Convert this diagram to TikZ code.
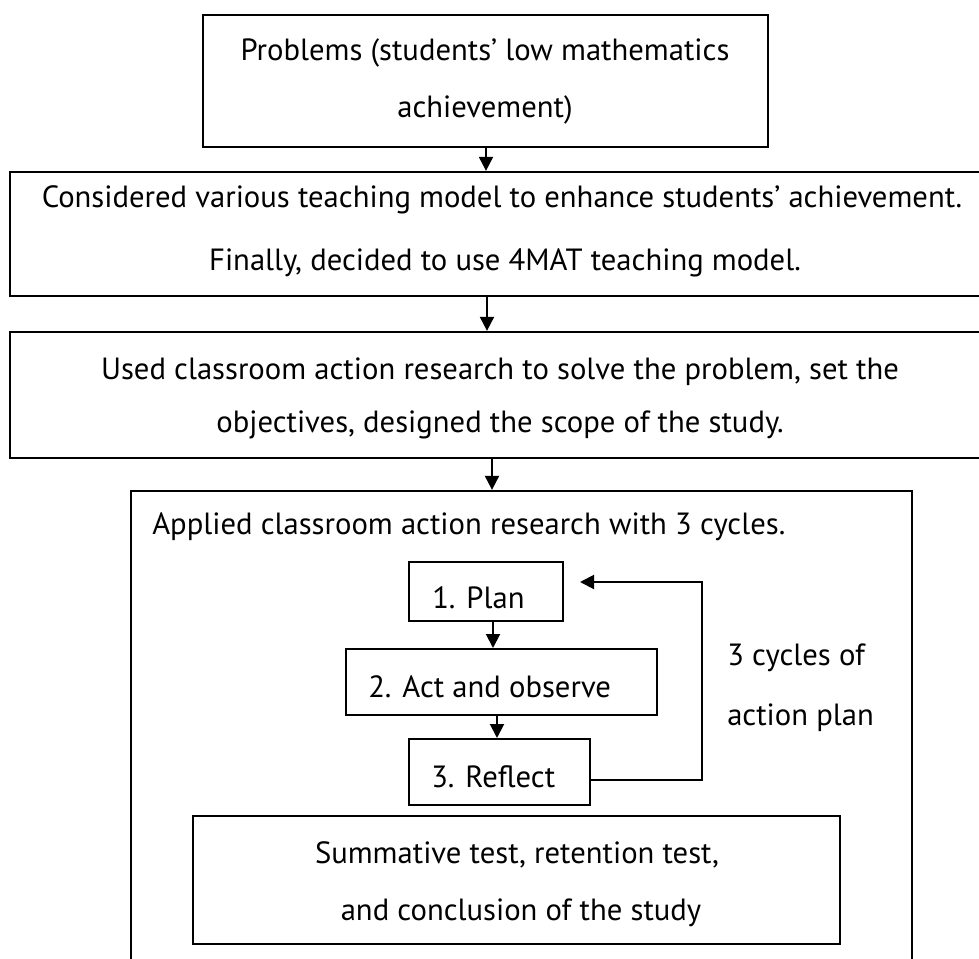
\documentclass[tikz,border=0pt]{standalone}
\usepackage{fontspec}
\setmainfont{PT Sans}
\usetikzlibrary{arrows.meta,fit}
\begin{document}
\begin{tikzpicture}[x=0.75pt,y=-0.75pt,
  box/.style={draw,line width=1.7pt,inner sep=0pt},
  sbox/.style={draw,line width=1.5pt,inner sep=0pt},
  txt/.style={inner sep=0pt,font=\fontsize{23}{27}\selectfont},
  arr/.style={line width=1.5pt,-{Triangle[length=10.5pt,width=10.5pt]}}]
\useasboundingbox (0,0) rectangle (979,959);
% main boxes
\node[box,fit={(203,15) (768,147)}] (b1) {};
\node[box,fit={(10,172) (996,296)}] (b2) {};
\node[box,fit={(10,332) (990,458)}] (b3) {};
\node[box,fit={(131,491) (912,975)}] (b4) {};
% inner boxes
\node[sbox,fit={(409,562) (563,621)}] (pl) {};
\node[sbox,fit={(346,649) (657,715)}] (ac) {};
\node[sbox,fit={(409,739) (590,805)}] (rf) {};
\node[sbox,fit={(193,816) (840,944)}] (sm) {};
% texts
\node[txt] (t1a) at (485,53) {Problems (students’ low mathematics};
\node[txt] (t1b) at (485,110) {achievement)};
\node[txt] (t2a) at (502,200) {Considered various teaching model to enhance students’ achievement.};
\node[txt] (t2b) at (505,263) {Finally, decided to use 4MAT teaching model.};
\node[txt] (t3a) at (500,372) {Used classroom action research to solve the problem, set the};
\node[txt] (t3b) at (500,425) {objectives, designed the scope of the study.};
\node[txt,anchor=west] (t4) at (152,527) {Applied classroom action research with 3 cycles.};
\node[txt,anchor=west] (tpl) at (432,598) {1. Plan};
\node[txt,anchor=west] (tac) at (368,687) {2. Act and observe};
\node[txt,anchor=west] (trf) at (431,777) {3. Reflect};
\node[txt,anchor=west] (tcy1) at (727,658) {3 cycles of};
\node[txt,anchor=west] (tcy2) at (727,718) {action plan};
\node[txt] (tsm1) at (517,855) {Summative test, retention test,};
\node[txt] (tsm2) at (521,913) {and conclusion of the study};
% connectors
\draw[arr] (486,0 |- b1.south) -- (486,0 |- b2.north);
\draw[arr] (487,0 |- b2.south) -- (487,0 |- b3.north);
\draw[arr] (492,0 |- b3.south) -- (492,0 |- b4.north);
\draw[arr] (493,0 |- pl.south) -- (493,0 |- ac.north);
\draw[arr] (497,0 |- ac.south) -- (497,0 |- rf.north);
\coordinate (fbtip) at (580,582);
\draw[arr] (rf.east |- 0,780) -- (702,780) -- (702,582) -- (fbtip);
\end{tikzpicture}
\end{document}
